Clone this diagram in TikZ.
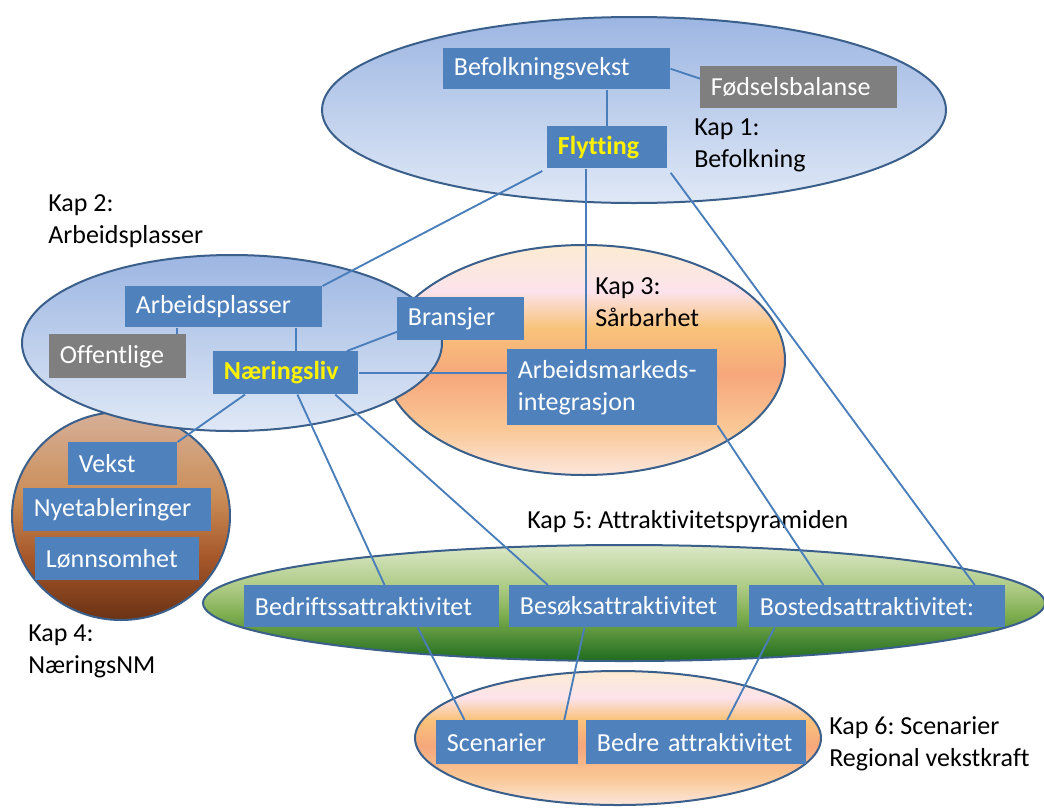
\documentclass[tikz,border=0pt]{standalone}
\usepackage{fontspec}
\setmainfont{Carlito}[Ligatures=NoCommon]
\usetikzlibrary{positioning,calc}

\definecolor{boxblue}{HTML}{4F81BD}
\definecolor{boxgrey}{HTML}{7F7F7F}
\definecolor{rimblue}{HTML}{3A5F8B}
\definecolor{linkblue}{HTML}{4A7EBB}
\definecolor{skytop}{HTML}{9DB6E2}
\definecolor{skylow}{HTML}{DFE8F6}
\definecolor{sunA}{HTML}{FCE6DC}
\definecolor{sunB}{HTML}{FAC896}
\definecolor{sunC}{HTML}{F6A77B}
\definecolor{sunD}{HTML}{F9C37B}
\definecolor{sunE}{HTML}{FCE3EC}
\definecolor{sunF}{HTML}{FDEBD2}
\definecolor{clayA}{HTML}{6A3214}
\definecolor{clayB}{HTML}{A6572A}
\definecolor{clayC}{HTML}{CB8E58}
\definecolor{clayD}{HTML}{D6AF98}
\definecolor{leafA}{HTML}{1E6B1E}
\definecolor{leafB}{HTML}{7FAE50}
\definecolor{leafC}{HTML}{A8C77E}
\definecolor{leafD}{HTML}{DBE8C7}

\pgfdeclareverticalshading{sunset}{100bp}{color(0bp)=(sunA); color(25bp)=(sunA);
  color(35bp)=(sunB); color(47bp)=(sunC); color(57bp)=(sunD); color(65bp)=(sunE);
  color(75bp)=(sunF); color(100bp)=(sunF)}
\pgfdeclareverticalshading{clay}{100bp}{color(0bp)=(clayA); color(25bp)=(clayA);
  color(40bp)=(clayB); color(55bp)=(clayC); color(75bp)=(clayD); color(100bp)=(clayD)}
\pgfdeclareverticalshading{meadow}{100bp}{color(0bp)=(leafA); color(25bp)=(leafA);
  color(45bp)=(leafB); color(55bp)=(leafC); color(75bp)=(leafD); color(100bp)=(leafD)}

\newcommand{\chapfont}{\fontsize{19.5}{24}\selectfont}
\frenchspacing

\tikzset{
  box/.style 2 args={fill=boxblue, text=white, anchor=north west, inner xsep=8pt,
    inner ysep=0pt, /utils/exec={\pgfmathsetlengthmacro\boxtw{#1*0.75pt-16pt}},
    text width=\boxtw, minimum height=#2*0.75pt, align=left, font=\chapfont},
  greybox/.style={fill=boxgrey},
  hot/.style={text=yellow, font=\chapfont\bfseries},
  chap/.style={anchor=west, align=left, inner sep=0pt, font=\chapfont},
  ell/.style={draw=rimblue, line width=1.5pt},
  link/.style={draw=linkblue, line width=1.4pt},
}

\begin{document}
\begin{tikzpicture}[x=0.75pt,y=-0.75pt]
  \useasboundingbox (0,0) rectangle (1044,807);

  % chapters
  \shadedraw[ell, shading=sunset] (584,360) ellipse [x radius=201, y radius=115];
  \shadedraw[ell, top color=skytop, bottom color=skylow] (634,110) ellipse [x radius=312, y radius=93];
  \shadedraw[ell, shading=clay] (121,516) ellipse [x radius=109, y radius=104];
  \shadedraw[ell, top color=skytop, bottom color=skylow] (232,343) ellipse [x radius=210, y radius=88];
  \shadedraw[ell, shading=meadow] (624,603) ellipse [x radius=421, y radius=58];
  \shadedraw[ell, shading=sunset] (618,738) ellipse [x radius=203, y radius=67];

  % Kap 1
  \node[box={227}{41}] (befv) at (443,48) {Befolkningsvekst};
  \node[box={197}{42}, greybox] (fods) at (700,66) {Fødselsbalanse};
  \node[box={120}{42}, hot] (flyt) at (547,126) {Flytting};
  \node[chap] (kap1) at (694,145) {Kap 1:\\Befolkning};

  % Kap 2
  \node[box={197}{41}] (arbp) at (125,286) {Arbeidsplasser};
  \node[box={137}{44}, greybox] (offe) at (49,334) {Offentlige};
  \node[box={145}{43}, hot] (nar) at (213,351) {Næringsliv};
  \node[box={127}{43}] (bran) at (397,297) {Bransjer};
  \node[chap] (kap2) at (48,221) {Kap 2:\\Arbeidsplasser};

  % Kap 3
  \node[box={210}{76}] (arbm) at (507,349) {Arbeidsmarkeds-\\integrasjon};
  \node[chap] (kap3) at (595,302) {Kap 3:\\Sårbarhet};

  % Kap 4
  \node[box={109}{43}] (vekst) at (68,442) {Vekst};
  \node[box={188}{43}] (nyet) at (23,488) {Nyetableringer};
  \node[box={164}{43}] (lonn) at (35,537) {Lønnsomhet};
  \node[chap] (kap4) at (28,651) {Kap 4:\\NæringsNM};

  % Kap 5
  \node[box={255}{42}] (bedr) at (244,585) {Bedriftssattraktivitet};
  \node[box={228}{42}] (besk) at (509,585) {Besøksattraktivitet};
  \node[box={256}{42}] (bost) at (749,585) {Bostedsattraktivitet:};
  \node[chap] (kap5) at (527,522) {Kap 5: Attraktivitetspyramiden};

  % Kap 6
  \node[box={142}{44}] (scen) at (436,720) {Scenarier};
  \node[box={220}{44}] (bedre) at (586,720) {Bedre attraktivitet};
  \node[chap] (kap6) at (829,744) {Kap 6: Scenarier\\Regional vekstkraft};

  % links
  \coordinate (f1) at ($(flyt.south west)!0.32!(flyt.south east)$);
  \coordinate (a1) at ($(offe.north west)!0.93!(offe.north east)$);
  \coordinate (n1) at ($(nar.north west)!0.57!(nar.north east)$);
  \coordinate (n2) at ($(nar.north west)!0.92!(nar.north east)$);
  \coordinate (b1) at ($(bran.south west)!0.2!(bran.north west)$);
  \draw[link] (befv.east) -- (fods.175);
  \draw[link] (flyt.north) -- (flyt.north |- befv.south);
  \draw[link, shorten <=4pt] (flyt.south west) -- (arbp.north east);
  \draw[link] (f1) -- (f1 |- arbm.north);
  \draw[link, shorten <=4pt] (flyt.south east) -- ($(bost.north west)!0.88!(bost.north east)$);
  \draw[link] (a1) -- (a1 |- arbp.south);
  \draw[link] (n1) -- (n1 |- arbp.south);
  \draw[link] (b1) -- (n2);
  \draw[link] (nar.east) -- (nar.east -| arbm.west);
  \draw[link] ($(nar.south west)!0.22!(nar.south east)$) -- (vekst.north east);
  \draw[link] ($(nar.south west)!0.58!(nar.south east)$) -- ($(bedr.north west)!0.55!(bedr.north east)$);
  \draw[link] ($(nar.south west)!0.84!(nar.south east)$) -- ($(besk.north west)!0.17!(besk.north east)$);
  \draw[link] (arbm.south east) -- ($(bost.north west)!0.29!(bost.north east)$);
  \draw[link] ($(bedr.south west)!0.68!(bedr.south east)$) -- ($(scen.north west)!0.2!(scen.north east)$);
  \draw[link] ($(besk.south west)!0.33!(besk.south east)$) -- ($(scen.north west)!0.9!(scen.north east)$);
  \draw[link] ($(bost.south west)!0.1!(bost.south east)$) -- ($(bedre.north west)!0.64!(bedre.north east)$);
\end{tikzpicture}
\end{document}
